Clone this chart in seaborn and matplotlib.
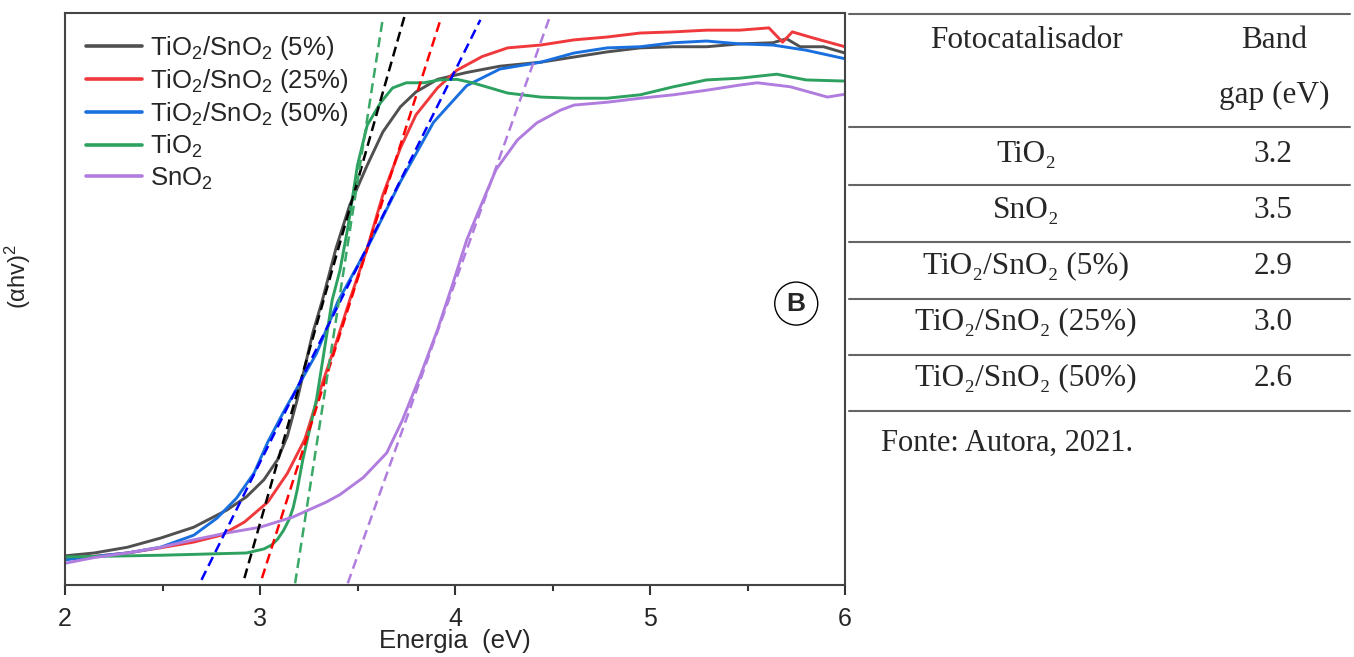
import matplotlib
matplotlib.use("Agg")
import matplotlib.pyplot as plt
import seaborn as sns

# curves, (alpha h v)^2 in arbitrary units (0-100)
e_5 = [2.0, 2.15, 2.32, 2.49, 2.66, 2.83, 2.93, 3.02, 3.09, 3.14, 3.19, 3.23, 3.27, 3.32, 3.39, 3.46,
       3.55, 3.63, 3.72, 3.80, 3.91, 4.06, 4.23, 4.44, 4.61, 4.78, 4.95, 5.12, 5.29, 5.46, 5.63, 5.70,
       5.77, 5.89, 6.0]
a_5 = [5.1, 5.6, 6.6, 8.2, 10.1, 13.1, 15.4, 18.4, 21.9, 26.0, 32.3, 38.1, 44.0, 49.8, 58.9, 66.4,
       73.4, 79.2, 83.6, 86.2, 88.4, 89.6, 90.7, 91.4, 92.3, 93.2, 93.9, 94.1, 94.1, 94.6, 94.8, 95.5,
       94.1, 94.1, 93.0]

e_25 = [2.0, 2.15, 2.32, 2.49, 2.66, 2.80, 2.92, 3.04, 3.14, 3.23, 3.32, 3.39, 3.46, 3.55, 3.63, 3.72,
        3.80, 3.91, 4.01, 4.14, 4.27, 4.44, 4.61, 4.78, 4.95, 5.12, 5.29, 5.46, 5.61, 5.68, 5.73, 5.84,
        6.0]
a_25 = [4.6, 5.0, 5.6, 6.5, 7.5, 8.7, 11.0, 14.5, 19.5, 25.5, 35.3, 42.3, 49.8, 58.9, 68.2, 76.4,
        82.2, 86.9, 90.0, 92.4, 93.9, 94.4, 95.3, 95.8, 96.5, 96.7, 97.0, 97.0, 97.4, 94.9, 96.7, 95.6,
        94.1]

e_50 = [2.0, 2.15, 2.32, 2.49, 2.66, 2.78, 2.88, 2.97, 3.04, 3.12, 3.29, 3.40, 3.55, 3.72, 3.89, 4.06,
        4.23, 4.44, 4.61, 4.78, 4.95, 5.12, 5.29, 5.46, 5.63, 5.80, 6.0]
a_50 = [4.4, 5.0, 5.6, 6.6, 8.7, 11.7, 15.2, 19.6, 25.0, 30.2, 40.5, 49.6, 58.9, 70.5, 80.9, 87.3,
        90.2, 91.4, 93.0, 93.9, 94.1, 94.8, 95.1, 94.6, 94.4, 93.5, 92.0]

e_tio2 = [2.0, 2.49, 2.93, 3.02, 3.06, 3.09, 3.12, 3.15, 3.17, 3.19, 3.22, 3.25, 3.29, 3.33, 3.37, 3.41,
          3.45, 3.50, 3.55, 3.62, 3.68, 3.75, 3.84, 3.92, 4.01, 4.09, 4.27, 4.44, 4.61, 4.78, 4.95, 5.12,
          5.29, 5.46, 5.65, 5.80, 6.0]
a_tio2 = [4.9, 5.2, 5.6, 6.3, 7.0, 8.0, 9.5, 11.5, 13.5, 16.5, 22.0, 26.5, 32.5, 41.1, 49.8, 55.0,
          62.4, 73.4, 80.4, 84.4, 86.9, 87.8, 87.8, 88.3, 88.4, 87.8, 86.0, 85.3, 85.1, 85.1, 85.7, 87.1,
          88.3, 88.6, 89.3, 88.3, 88.1]

e_sno2 = [2.0, 2.15, 2.32, 2.49, 2.66, 2.83, 3.0, 3.17, 3.34, 3.41, 3.53, 3.65, 3.73, 3.82, 3.91, 3.99,
          4.06, 4.13, 4.21, 4.32, 4.42, 4.54, 4.61, 4.78, 4.95, 5.12, 5.29, 5.46, 5.55, 5.72, 5.91, 6.0]
a_sno2 = [3.8, 4.8, 5.6, 6.6, 7.9, 9.1, 10.1, 11.9, 14.5, 15.8, 18.8, 23.1, 28.8, 36.4, 44.6, 52.8,
          60.3, 66.1, 72.6, 77.8, 80.8, 83.0, 83.9, 84.4, 85.1, 85.7, 86.5, 87.4, 87.8, 87.1, 85.3, 85.8]

labels = ["TiO$_2$/SnO$_2$ (5%)", "TiO$_2$/SnO$_2$ (25%)", "TiO$_2$/SnO$_2$ (50%)", "TiO$_2$", "SnO$_2$"]
energies = [e_5, e_25, e_50, e_tio2, e_sno2]
absorb = [a_5, a_25, a_50, a_tio2, a_sno2]
line_colors = ["#505050", "#f0393c", "#1a6fdf", "#2da160", "#b07ddf"]

# Tauc tangent lines (end points)
tan_x0 = [2.92, 3.01, 2.70, 3.18, 3.45]
tan_x1 = [3.74, 3.93, 4.13, 3.63, 4.49]
tan_y0 = [1.2, 1.2, 0.9, 0.3, 0.3]
tan_y1 = [99.3, 99.3, 98.8, 99.1, 99.7]
tan_colors = ["#000000", "#ff0000", "#0000ff", "#3aa866", "#b07ddf"]

# table beside the plot
tab_names = ["TiO₂", "SnO₂", "TiO₂/SnO₂ (5%)", "TiO₂/SnO₂ (25%)", "TiO₂/SnO₂ (50%)"]
tab_gaps = ["3.2", "3.5", "2.9", "3.0", "2.6"]

sns.set_theme(style="ticks")
plt.rcParams["font.family"] = ["Liberation Sans", "DejaVu Sans"]
plt.rcParams["mathtext.fontset"] = "custom"
plt.rcParams["mathtext.rm"] = "Liberation Sans"
plt.rcParams["mathtext.it"] = "Liberation Sans:italic"
plt.rcParams["mathtext.bf"] = "Liberation Sans:bold"

fig = plt.figure(figsize=(13.54, 6.57), dpi=100)
ax = fig.add_axes([65 / 1354, 1 - 585 / 657, 780 / 1354, 572 / 657])

for e, a, lab, c in zip(energies, absorb, labels, line_colors):
    sns.lineplot(x=e, y=a, ax=ax, color=c, lw=2.1, label=lab, sort=False)

for x0, x1, y0, y1, c in zip(tan_x0, tan_x1, tan_y0, tan_y1, tan_colors):
    sns.lineplot(x=[x0, x1], y=[y0, y1], ax=ax, color=c, lw=1.8,
                 linestyle=(0, (4, 2.2)), sort=False)

ax.set_xlim(2, 6)
ax.set_ylim(0, 100)
ax.set_xticks([2, 3, 4, 5, 6])
ax.set_xticks([2.5, 3.5, 4.5, 5.5], minor=True)
ax.set_yticks([])
ax.tick_params(axis="x", which="major", length=7, width=1.5, labelsize=18, color="#333333", pad=8.5)
ax.tick_params(axis="x", which="minor", length=4, width=1.5, color="#333333")
for sp in ax.spines.values():
    sp.set_color("#444444")
    sp.set_linewidth(1.5)
ax.set_xlabel("Energia  (eV)", fontsize=18.5, labelpad=-1)
ax.set_ylabel("(αhv)$^2$", fontsize=17)
ax.yaxis.set_label_coords(-0.041, 0.54)

leg = ax.legend(loc="upper left", bbox_to_anchor=(0.0, 1.0), frameon=False, fontsize=18.5,
                handlelength=2.2, handletextpad=0.3, labelspacing=0.2, borderaxespad=0.4)
for h in leg.get_lines():
    h.set_linewidth(2.6)

ax.text(5.75, 49.2, "B", fontsize=19, fontweight="bold", ha="center", va="center",
        bbox=dict(boxstyle="circle,pad=0.36", fc="white", ec="black", lw=1))

# table drawn in figure pixels
def fx(px):
    return px / 1354

def fy(py):
    return 1 - py / 657

serif = ["Liberation Serif", "DejaVu Serif"]
for py in [14, 127, 185, 242, 299, 355, 411]:
    fig.add_artist(plt.Line2D([fx(849), fx(1350)], [fy(py), fy(py)], color="#666666", lw=1.5))

tsize = 22.5
fig.text(fx(1026), fy(40), "Fotocatalisador", family=serif, fontsize=tsize, ha="center", va="center")
fig.text(fx(1274), fy(40), "Band", family=serif, fontsize=tsize, ha="center", va="center")
fig.text(fx(1274), fy(95), "gap (eV)", family=serif, fontsize=tsize, ha="center", va="center")
row_y = [155, 210, 266, 322, 378]
for name, gap, py in zip(tab_names, tab_gaps, row_y):
    fig.text(fx(1026), fy(py), name, family=serif, fontsize=tsize, ha="center", va="center")
    fig.text(fx(1273), fy(py), gap, family=serif, fontsize=tsize, ha="center", va="center")
fig.text(fx(881), fy(443), "Fonte: Autora, 2021.", family=serif, fontsize=22, ha="left", va="center")

fig.savefig("out.png", dpi=100)
